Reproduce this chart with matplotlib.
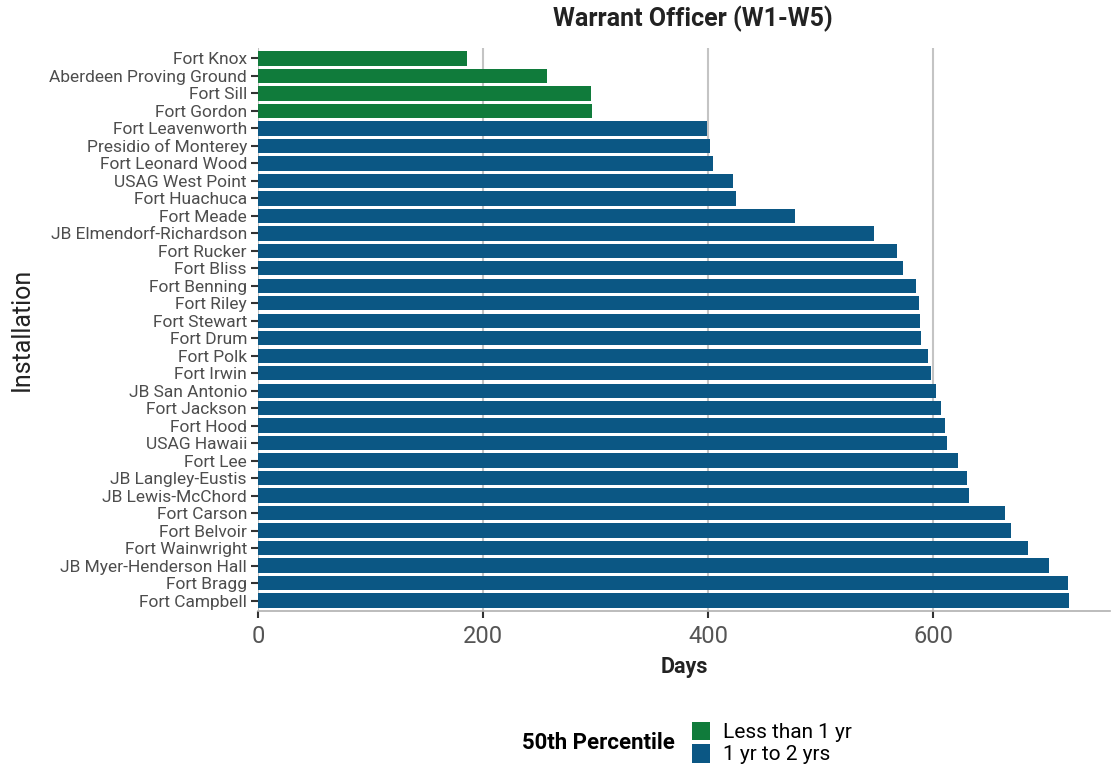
import matplotlib
matplotlib.use('Agg')
import matplotlib.pyplot as plt
from matplotlib.patches import Patch
from matplotlib.offsetbox import HPacker

plt.rcParams['font.family'] = ['Liberation Sans Narrow', 'Roboto', 'DejaVu Sans']

# installations, top to bottom
installations = [
    'Fort Knox', 'Aberdeen Proving Ground', 'Fort Sill', 'Fort Gordon',
    'Fort Leavenworth', 'Presidio of Monterey', 'Fort Leonard Wood',
    'USAG West Point', 'Fort Huachuca', 'Fort Meade',
    'JB Elmendorf-Richardson', 'Fort Rucker', 'Fort Bliss', 'Fort Benning',
    'Fort Riley', 'Fort Stewart', 'Fort Drum', 'Fort Polk', 'Fort Irwin',
    'JB San Antonio', 'Fort Jackson', 'Fort Hood', 'USAG Hawaii', 'Fort Lee',
    'JB Langley-Eustis', 'JB Lewis-McChord', 'Fort Carson', 'Fort Belvoir',
    'Fort Wainwright', 'JB Myer-Henderson Hall', 'Fort Bragg', 'Fort Campbell',
]
days = [186, 257, 296, 297, 399, 402, 404, 422, 425, 477, 547, 568, 573, 585,
        587, 588, 589, 595, 598, 602, 607, 610, 612, 622, 630, 632, 664, 669,
        684, 703, 720, 721]
groups = ['Less than 1 yr'] * 4 + ['1 yr to 2 yrs'] * 28
colors = {'Less than 1 yr': '#107B3B', '1 yr to 2 yrs': '#0B5784'}

fig = plt.figure(figsize=(11.17, 7.65), dpi=100)
ax = fig.add_axes([258 / 1117, 1 - 611 / 765, 852 / 1117, 563 / 765])

ypos = list(range(len(installations)))
ax.barh(ypos, days, height=0.82, color=[colors[g] for g in groups], zorder=2)

ax.set_ylim(len(installations) - 0.4, -0.6)
ax.set_xlim(0, 757)
ax.set_yticks(ypos)
ax.set_yticklabels(installations, fontsize=12.5, color='#4d4d4d')
ax.set_xticks([0, 200, 400, 600])
ax.set_xticklabels(['0', '200', '400', '600'], fontsize=17, color='#555555')

ax.xaxis.grid(True, color='#c4c4c4', linewidth=1.5, zorder=0)
ax.yaxis.grid(False)
for s in ['top', 'right', 'left']:
    ax.spines[s].set_visible(False)
ax.spines['bottom'].set_color('#b0b0b0')
ax.spines['bottom'].set_linewidth(1.2)
ax.tick_params(axis='y', length=5, width=1.5, color='#333333', pad=3)
ax.tick_params(axis='x', length=5, width=1.5, color='#333333', pad=5)

ax.set_xlabel('Days', fontsize=15.5, fontweight='bold', color='#222222', labelpad=6)
ax.set_ylabel('Installation', fontsize=18, color='#222222')
ax.yaxis.set_label_coords(-224 / 852, 0.5)
ax.set_title('Warrant Officer (W1-W5)', fontsize=18, fontweight='bold',
             color='#222222', pad=16, x=0.51)

handles = [Patch(facecolor=colors[k], edgecolor='none') for k in colors]
leg = fig.legend(handles, list(colors.keys()), loc='center',
                 bbox_to_anchor=(687 / 1117, 1 - 743 / 765), frameon=False,
                 fontsize=15, title='50th Percentile', handlelength=0.9,
                 handleheight=1.0, handletextpad=0.6, labelspacing=0.1)
leg.get_title().set_fontsize(16)
leg.get_title().set_fontweight('bold')
# put title to the left of the keys, as in ggplot bottom legends
box = leg._legend_box
box._children = [HPacker(children=list(box.get_children()), align='center',
                         pad=0, sep=12)]

fig.savefig('out.png', dpi=100)
